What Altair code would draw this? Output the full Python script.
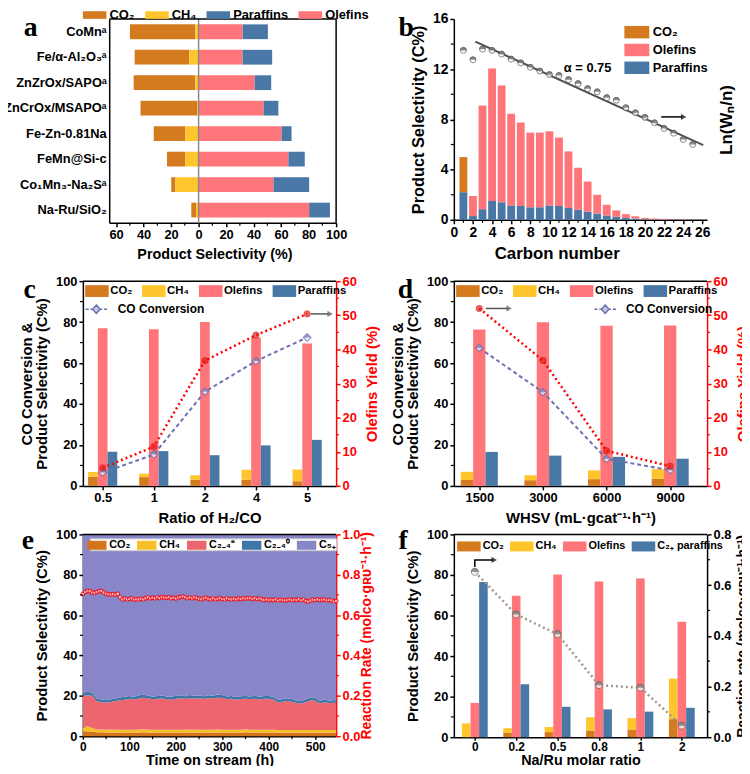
import altair as alt
import pandas as pd

FONT = "Liberation Sans"
SERIF = "Liberation Serif"

C_CO2 = "#D47B1F"
C_CH4 = "#FFC52C"
C_OLE = "#FF7579"
C_PAR = "#4A78A6"
RED = "#FF0000"
CONV = "#6E70B0"
RATE_F = "#A3968A"
W = 256

# ---------------- panel a data ----------------
a_catalysts = ["CoMnᵃ", "Fe/α-Al₂O₃ᵃ", "ZnZrOx/SAPOᵃ", "ZnCrOx/MSAPOᵃ",
               "Fe-Zn-0.81Na", "FeMn@Si-c", "Co₁Mn₃-Na₂Sᵃ", "Na-Ru/SiO₂"]
a_co2 = [47.5, 39.8, 44.8, 41.2, 23.0, 13.4, 3.1, 3.4]
a_ch4 = [2.4, 6.7, 2.4, 1.0, 9.6, 9.6, 16.8, 1.9]
a_olefins = [32.0, 32.0, 40.8, 47.3, 60.4, 65.3, 54.5, 80.4]
a_paraffins = [18.4, 21.5, 12.0, 10.7, 7.2, 11.9, 25.9, 15.1]
a_series = ["CO₂", "CH₄", "Paraffins", "Olefins"]
a_ticks = [-60, -40, -20, 0, 20, 40, 60, 80, 100]
a_minor = [-50, -30, -10, 10, 30, 50, 70, 90]

# ---------------- panel b data ----------------
b_carbon = [1, 2, 3, 4, 5, 6, 7, 8, 9, 10, 11, 12, 13, 14, 15, 16, 17, 18, 19, 20, 21, 22, 23, 24, 25]
b_paraffins = [2.2, 0.3, 0.85, 1.5, 1.4, 1.15, 1.1, 1.0, 1.0, 1.15, 1.1, 0.95, 0.8, 0.65, 0.5,
               0.35, 0.25, 0.15, 0.1, 0.05, 0.03, 0.02, 0.02, 0.01, 0.01]
b_olefins = [0.0, 1.6, 8.25, 10.55, 9.3, 7.3, 6.65, 5.95, 5.95, 5.9, 5.45, 4.5, 3.35, 2.4, 1.5,
             0.85, 0.5, 0.3, 0.18, 0.1, 0.07, 0.06, 0.03, 0.02, 0.01]
b_co2 = [2.8, 0, 0, 0, 0, 0, 0, 0, 0, 0, 0, 0, 0, 0, 0, 0, 0, 0, 0, 0, 0, 0, 0, 0, 0]
b_lnw = [13.5, 12.75, 13.6, 13.5, 13.2, 12.8, 12.5, 12.15, 11.85, 11.57, 11.5, 11.17, 10.85,
         10.45, 10.2, 9.73, 9.52, 8.93, 8.53, 8.16, 7.73, 7.28, 6.9, 6.4, 6.0]
b_fit_x = [2.25, 26.1]
b_fit_y = [14.2, 5.95]
b_series = ["CO₂", "Olefins", "Paraffins"]
b_ticks = [0, 2, 4, 6, 8, 10, 12, 14, 16, 18, 20, 22, 24, 26]
b_minor_x = [1, 3, 5, 7, 9, 11, 13, 15, 17, 19, 21, 23, 25]
b_yticks = [0, 4, 8, 12, 16]
b_minor_y = [2, 6, 10, 14]

# ---------------- panel c data ----------------
c_ratio = ["0.5", "1", "2", "4", "5"]
c_co2 = [4.5, 4.3, 3.0, 3.0, 2.3]
c_ch4 = [2.3, 1.7, 2.2, 4.9, 5.7]
c_olefins = [77.0, 76.5, 80.0, 72.5, 69.5]
c_paraffins = [16.7, 17.0, 15.0, 19.8, 22.5]
c_conv = [6.5, 15.3, 46.0, 61.0, 72.5]
c_yield = [5.3, 11.5, 36.7, 44.2, 50.4]

# ---------------- panel d data ----------------
d_whsv = ["1500", "3000", "6000", "9000"]
d_co2 = [2.9, 2.8, 3.3, 3.5]
d_ch4 = [4.0, 2.4, 4.3, 4.7]
d_olefins = [76.4, 79.9, 78.2, 78.4]
d_paraffins = [16.6, 14.8, 14.2, 13.3]
d_conv = [67.4, 45.8, 13.2, 7.7]
d_yield = [52.0, 36.8, 10.3, 5.8]

# ---------------- panel e data ----------------
e_time = [0, 10, 20, 30, 40, 50, 60, 70, 80, 90, 100, 110, 120, 130, 140, 150, 160, 170, 180, 190,
          200, 210, 220, 230, 240, 250, 260, 270, 280, 290, 300, 310, 320, 330, 340, 350, 360, 370,
          380, 390, 400, 410, 420, 430, 440, 450, 460, 470, 480, 490, 500, 510, 520, 530, 540, 545]
e_top = [21.5, 22.0, 21.6, 18.6, 18.2, 17.9, 18.3, 18.7, 19.2, 19.6,
         19.9, 19.5, 20.2, 20.7, 20.2, 19.6, 19.9, 20.2, 19.7, 19.5,
         20.0, 20.3, 19.8, 20.4, 20.1, 20.2, 19.8, 20.3, 20.1, 20.6,
         20.4, 19.7, 19.9, 19.4, 19.8, 19.9, 19.7, 20.1, 19.5, 19.9,
         19.9, 19.5, 17.9, 18.4, 18.8, 18.4, 17.6, 17.4, 18.3, 19.2,
         19.0, 17.4, 18.2, 17.6, 17.9, 17.7]
e_par = [1.6, 1.7, 1.6, 1.4, 1.3, 1.3, 1.4, 1.3, 1.4, 1.5,
         1.4, 1.3, 1.5, 1.6, 1.4, 1.3, 1.4, 1.5, 1.3, 1.4,
         1.4, 1.5, 1.3, 1.5, 1.4, 1.4, 1.3, 1.5, 1.4, 1.6,
         1.5, 1.3, 1.4, 1.3, 1.4, 1.4, 1.3, 1.5, 1.3, 1.4,
         1.4, 1.3, 1.2, 1.3, 1.4, 1.3, 1.2, 1.2, 1.3, 1.4,
         1.4, 1.2, 1.3, 1.2, 1.3, 1.3]
e_co2 = [2.3, 2.5, 2.2, 1.9, 1.9, 1.8, 1.8, 1.8, 1.8, 1.8,
         1.8, 1.8, 1.8, 1.9, 1.8, 1.8, 1.8, 1.8, 1.8, 1.8,
         1.8, 1.8, 1.8, 1.8, 1.8, 1.8, 1.8, 1.8, 1.8, 1.8,
         1.8, 1.8, 1.8, 1.8, 1.8, 1.9, 1.8, 1.8, 1.8, 1.8,
         1.8, 1.8, 1.7, 1.7, 1.7, 1.7, 1.7, 1.7, 1.7, 1.7,
         1.7, 1.7, 1.7, 1.7, 1.7, 1.7]
e_ch4 = [1.9, 2.4, 1.8, 1.4, 1.4, 1.4, 1.5, 1.4, 1.4, 1.4,
         1.4, 1.4, 1.5, 1.5, 1.4, 1.4, 1.4, 1.4, 1.4, 1.4,
         1.4, 1.4, 1.4, 1.5, 1.4, 1.4, 1.4, 1.4, 1.4, 1.5,
         1.4, 1.4, 1.4, 1.4, 1.4, 1.5, 1.4, 1.4, 1.4, 1.4,
         1.4, 1.4, 1.4, 1.4, 1.4, 1.4, 1.4, 1.4, 1.4, 1.4,
         1.4, 1.4, 1.4, 1.4, 1.4, 1.4]
e_rate_t = list(range(0, 550, 5))
e_rate = [0.705, 0.715, 0.72, 0.718, 0.712, 0.71, 0.715, 0.718, 0.72, 0.712,
          0.706, 0.703, 0.702, 0.704, 0.702, 0.706, 0.688, 0.678, 0.682, 0.678,
          0.68, 0.684, 0.677, 0.679, 0.678, 0.681, 0.679, 0.684, 0.688, 0.683,
          0.686, 0.684, 0.688, 0.685, 0.69, 0.687, 0.686, 0.689, 0.684, 0.686,
          0.682, 0.687, 0.69, 0.692, 0.688, 0.684, 0.687, 0.683, 0.688, 0.685,
          0.681, 0.679, 0.683, 0.686, 0.681, 0.679, 0.683, 0.679, 0.681, 0.684,
          0.68, 0.678, 0.683, 0.68, 0.678, 0.681, 0.679, 0.682, 0.68, 0.683,
          0.682, 0.684, 0.683, 0.681, 0.683, 0.68, 0.682, 0.678, 0.675, 0.677,
          0.675, 0.676, 0.675, 0.677, 0.673, 0.676, 0.674, 0.672, 0.675, 0.677,
          0.674, 0.676, 0.675, 0.678, 0.674, 0.677, 0.67, 0.667, 0.672, 0.676,
          0.675, 0.678, 0.675, 0.676, 0.677, 0.674, 0.675, 0.672, 0.668, 0.67]
e_series = ["CO₂", "CH₄", "C₂₋₄⁼", "C₂₋₄⁰", "C₅₊"]
e_colors = ["#D2741C", "#F9BF28", "#EC656F", "#3F76A8", "#8886C8"]

# ---------------- panel f data ----------------
f_ratio = ["0", "0.2", "0.5", "0.8", "1", "2"]
f_co2 = [0.0, 2.3, 2.5, 3.3, 3.8, 8.9]
f_ch4 = [6.8, 2.1, 2.5, 6.5, 5.6, 20.0]
f_olefins = [16.9, 69.7, 80.2, 76.8, 78.2, 56.9]
f_paraffins = [76.5, 26.1, 15.0, 13.7, 12.6, 14.5]
f_rate = [0.652, 0.484, 0.406, 0.205, 0.195, 0.045]

# ---------------- helpers ----------------
SYM_A = "M-1.7,-0.55H1.7V0.55H-1.7Z"
SYM_B = "M-1.8,-0.9H1.8V0.9H-1.8Z"
SYM_C = "M-1.7,-0.85H1.7V0.85H-1.7Z"
SYM_E = "M-1.4,-0.65H1.4V0.65H-1.4Z"
SYM_F = "M-1.7,-0.72H1.7V0.72H-1.7Z"
SYM_CONV = "M-1.55,0H-1.1M-0.85,0H-0.6M0.6,0H0.85M1.1,0H1.55M0,-0.6L0.55,0L0,0.6L-0.55,0Z"
TOP_HALF_CIRCLE = "M-1,0A1,1,0,0,1,1,0Z"
TOP_HALF_DIAMOND = "M-1,0L0,-1L1,0Z"


def one():
    return alt.Chart(pd.DataFrame({"k": [0]}))


def leg(x, y, sym, fs=13, cols=4, direction="horizontal", lo=8.0, cp=10.0, rp=4.0, **kw):
    return alt.Legend(title=None, orient="none", legendX=x, legendY=y, direction=direction,
                      columns=cols, symbolType=sym, symbolSize=196, symbolStrokeWidth=0,
                      labelFont=FONT, labelFontWeight="bold", labelFontSize=fs, labelColor="black",
                      labelOffset=lo, columnPadding=cp, rowPadding=rp, padding=0, labelLimit=300, **kw)


def letter(t, x, y):
    return one().mark_text(font=SERIF, fontSize=28, fontWeight="bold", align="left",
                           baseline="alphabetic", color="black").encode(
        x=alt.value(x), y=alt.value(y), text=alt.value(t))


def top_rule(x0, x1):
    return one().mark_rule(color="black", strokeWidth=1.5).encode(
        x=alt.value(x0), x2=alt.value(x1), y=alt.value(0))


def right_rule(x, h):
    return one().mark_rule(color="black", strokeWidth=1.5).encode(
        x=alt.value(x), y=alt.value(0), y2=alt.value(h))


def xminor(vals, scale, xax, h, color="black"):
    return alt.Chart(pd.DataFrame({"v": vals})).mark_rule(color=color, strokeWidth=1.2).encode(
        x=alt.X("v:Q", scale=scale, axis=xax), y=alt.value(h), y2=alt.value(h + 3))


def yminor(vals, domain, xpix, length, color="black"):
    return alt.Chart(pd.DataFrame({"v": vals})).mark_rule(color=color, strokeWidth=1.2).encode(
        y=alt.Y("v:Q", scale=alt.Scale(domain=domain, nice=False, zero=False), axis=None),
        x=alt.value(xpix), x2=alt.value(xpix + length))


def ys(domain):
    return alt.Scale(domain=domain, nice=False, zero=False)


def grouped_rows(co2, ch4, ole, par, h, names):
    rows = []
    for i in range(len(co2)):
        rows.append({"s": names[0], "x1": i - 3 * h, "x2": i - h, "y1": 0, "y2": co2[i]})
        rows.append({"s": names[1], "x1": i - 3 * h, "x2": i - h, "y1": co2[i], "y2": co2[i] + ch4[i]})
        rows.append({"s": names[2], "x1": i - h, "x2": i + h, "y1": 0, "y2": ole[i]})
        rows.append({"s": names[3], "x1": i + h, "x2": i + 3 * h, "y1": 0, "y2": par[i]})
    return pd.DataFrame(rows)


def cat_expr(cats):
    return "[" + ",".join("'" + c + "'" for c in cats) + "][datum.value]"


# ======================= panel a =======================
H_A = 206
A_OFF = 26.6
a_xs = alt.Scale(domain=[-65, 100], range=[A_OFF, W], nice=False, zero=False)
a_xax = alt.Axis(values=a_ticks, labelExpr="abs(datum.value)", title="Product Selectivity (%)",
                 titleX=133, titleFontSize=14.5, labelFontSize=13)
a_rows = []
for i, c in enumerate(a_catalysts):
    a_rows += [
        {"cat": c, "s": "CO₂", "lo": -(a_ch4[i] + a_co2[i]), "hi": -a_ch4[i]},
        {"cat": c, "s": "CH₄", "lo": -a_ch4[i], "hi": 0},
        {"cat": c, "s": "Olefins", "lo": 0, "hi": a_olefins[i]},
        {"cat": c, "s": "Paraffins", "lo": a_olefins[i], "hi": a_olefins[i] + a_paraffins[i]},
    ]
a_bars = alt.Chart(pd.DataFrame(a_rows)).mark_bar().encode(
    x=alt.X("lo:Q", scale=a_xs, axis=a_xax),
    x2="hi:Q",
    y=alt.Y("cat:N", sort=a_catalysts, scale=alt.Scale(paddingInner=0.42, paddingOuter=0.21),
            axis=alt.Axis(title=None, ticks=False, offset=-A_OFF, labelPadding=3, labelFontSize=13)),
    color=alt.Color("s:N", scale=alt.Scale(domain=a_series, range=[C_CO2, C_CH4, C_PAR, C_OLE]),
                    legend=leg(4.9, -11, SYM_A, fs=13, cols=4, lo=8, cp=10)),
)
a_zero = alt.Chart(pd.DataFrame({"v": [0]})).mark_rule(color="#8A8A8A", strokeWidth=1.5).encode(
    x=alt.X("v:Q", scale=a_xs, axis=a_xax))
panel_a = alt.layer(
    a_bars, a_zero, xminor(a_minor, a_xs, a_xax, H_A), top_rule(A_OFF, W), right_rule(W, H_A),
    letter("a", -59.7, 16.7),
).properties(width=W, height=H_A)

# ======================= panel b =======================
H_B = 203
b_xs = alt.Scale(domain=[0, 26.5], nice=False, zero=False)
b_xax = alt.Axis(values=b_ticks, title="Carbon number", titleX=104, titleFontSize=17, labelFontSize=14)
b_rows = []
for i, n in enumerate(b_carbon):
    b_rows.append({"s": "Paraffins", "x1": n - 0.41, "x2": n + 0.41, "y1": 0, "y2": b_paraffins[i]})
    if b_olefins[i] > 0:
        b_rows.append({"s": "Olefins", "x1": n - 0.41, "x2": n + 0.41, "y1": b_paraffins[i],
                       "y2": b_paraffins[i] + b_olefins[i]})
    if b_co2[i] > 0:
        b_rows.append({"s": "CO₂", "x1": n - 0.41, "x2": n + 0.41, "y1": b_paraffins[i],
                       "y2": b_paraffins[i] + b_co2[i]})
b_bars = alt.Chart(pd.DataFrame(b_rows)).mark_bar().encode(
    x=alt.X("x1:Q", scale=b_xs, axis=b_xax),
    x2="x2:Q",
    y=alt.Y("y1:Q", scale=ys([0, 16]), axis=alt.Axis(values=b_yticks, title="Product Selectivity (C%)",
                                                     titleFontSize=16.5, labelFontSize=14)),
    y2="y2:Q",
    color=alt.Color("s:N", scale=alt.Scale(domain=b_series, range=[C_CO2, C_OLE, C_PAR]),
                    legend=leg(178, 6.3, SYM_B, fs=13, cols=1, direction="vertical", lo=9, rp=4)),
)
b_fit = alt.Chart(pd.DataFrame({"x": b_fit_x, "y": b_fit_y})).mark_line(color="#505050", strokeWidth=2).encode(
    x=alt.X("x:Q", scale=b_xs, axis=b_xax),
    y=alt.Y("y:Q", scale=ys([0, 16]),
            axis=alt.Axis(orient="right", title="Ln(Wₙ/n)", labels=False, ticks=False, domain=False,
                          titleAngle=270, titleBaseline="top", titlePadding=12, titleFontSize=17)),
)
b_pts_df = pd.DataFrame({"n": b_carbon, "v": b_lnw})
b_pts = alt.Chart(b_pts_df).mark_point(shape="circle", filled=True, fill="white", stroke="#555555",
                                       strokeWidth=1, size=36).encode(
    x=alt.X("n:Q", scale=b_xs, axis=b_xax), y=alt.Y("v:Q", scale=ys([0, 16]), axis=None))
b_half = alt.Chart(b_pts_df).mark_point(shape=TOP_HALF_CIRCLE, filled=True, fill="#555555",
                                        strokeWidth=0, size=46).encode(
    x=alt.X("n:Q", scale=b_xs, axis=b_xax), y=alt.Y("v:Q", scale=ys([0, 16]), axis=None))
b_note = alt.Chart(pd.DataFrame({"x": [14.0], "y": [12.1], "t": ["α = 0.75"]})).mark_text(
    font=FONT, fontWeight="bold", fontSize=13, color="black").encode(
    x=alt.X("x:Q", scale=b_xs, axis=b_xax), y=alt.Y("y:Q", scale=ys([0, 16]), axis=None), text="t:N")
b_arrow = alt.Chart(pd.DataFrame({"x": [21.7], "x2": [23.9], "y": [8.2]})).mark_rule(
    color="black", strokeWidth=1.5).encode(
    x=alt.X("x:Q", scale=b_xs, axis=b_xax), x2="x2:Q", y=alt.Y("y:Q", scale=ys([0, 16]), axis=None))
b_head = alt.Chart(pd.DataFrame({"x": [24.05], "y": [8.2]})).mark_point(
    shape="triangle-right", filled=True, color="black", size=40).encode(
    x=alt.X("x:Q", scale=b_xs, axis=b_xax), y=alt.Y("y:Q", scale=ys([0, 16]), axis=None))
panel_b = alt.layer(
    b_bars, xminor(b_minor_x, b_xs, b_xax, H_B), yminor(b_minor_y, [0, 16], 0, -3),
    b_fit, b_pts, b_half, b_note, b_arrow, b_head, letter("b", -56, 16.7),
).resolve_scale(y="independent").properties(width=W, height=H_B)


# ======================= panels c, d, f (grouped bars) =======================
def cat_axis(cats, title, **kw):
    return alt.Axis(values=list(range(len(cats))), labelExpr=cat_expr(cats), title=title, **kw)


def grouped_bars(co2, ch4, ole, par, h, xs, xax, names, colors, legend, ytitle):
    df = grouped_rows(co2, ch4, ole, par, h, names)
    return alt.Chart(df).mark_bar().encode(
        x=alt.X("x1:Q", scale=xs, axis=xax),
        x2="x2:Q",
        y=alt.Y("y1:Q", scale=ys([0, 100]),
                axis=alt.Axis(values=[0, 20, 40, 60, 80, 100], title=ytitle, titleLineHeight=15)),
        y2="y2:Q",
        color=alt.Color("s:N", scale=alt.Scale(domain=names, range=colors), legend=legend),
    )


def conv_layers(vals, xs, xax):
    df = pd.DataFrame({"i": list(range(len(vals))), "v": vals})
    line = alt.Chart(df).mark_line(color=CONV, strokeDash=[4, 3], strokeWidth=2).encode(
        x=alt.X("i:Q", scale=xs, axis=xax), y=alt.Y("v:Q", scale=ys([0, 100]), axis=None))
    pts = alt.Chart(df).mark_point(shape="diamond", filled=True, fill="white", stroke=CONV,
                                   strokeWidth=1.2, size=60).encode(
        x=alt.X("i:Q", scale=xs, axis=xax), y=alt.Y("v:Q", scale=ys([0, 100]), axis=None))
    half = alt.Chart(df).mark_point(shape=TOP_HALF_DIAMOND, filled=True, fill=CONV, strokeWidth=0,
                                    size=60).encode(
        x=alt.X("i:Q", scale=xs, axis=xax), y=alt.Y("v:Q", scale=ys([0, 100]), axis=None))
    return [line, pts, half]


def conv_legend_layer(xs, xax, lx, ly, lo):
    return alt.Chart(pd.DataFrame({"lab": ["CO Conversion"]})).mark_point(
        filled=True, fill="#C3C5E4", stroke=CONV, strokeWidth=1.5, size=1).encode(
        x=alt.XDatum(0, scale=xs, axis=xax), y=alt.YDatum(40, scale=ys([0, 100]), axis=None),
        shape=alt.Shape("lab:N", scale=alt.Scale(domain=["CO Conversion"], range=[SYM_CONV]),
                        legend=alt.Legend(title=None, orient="none", legendX=lx, legendY=ly,
                                          symbolSize=196, symbolOpacity=1, labelFont=FONT,
                                          labelFontWeight="bold", labelFontSize=12, labelColor="black",
                                          labelOffset=lo, padding=0)))


def yield_layers(vals, xs, xax):
    df = pd.DataFrame({"i": list(range(len(vals))), "v": vals})
    line = alt.Chart(df).mark_line(color=RED, strokeDash=[2, 3], strokeWidth=2.5).encode(
        x=alt.X("i:Q", scale=xs, axis=xax),
        y=alt.Y("v:Q", scale=ys([0, 60]),
                axis=alt.Axis(orient="right", values=[0, 10, 20, 30, 40, 50, 60], title="Olefins Yield (%)",
                              titleColor=RED, labelColor=RED, domainColor=RED, tickColor=RED,
                              titleAngle=270, titleBaseline="top", titlePadding=8.5)))
    pts = alt.Chart(df).mark_point(shape="circle", filled=True, fill="#F21B1B", stroke="#B00000",
                                   strokeWidth=0.6, size=42).encode(
        x=alt.X("i:Q", scale=xs, axis=xax), y=alt.Y("v:Q", scale=ys([0, 60]), axis=None))
    return [line, pts]


def arrow(xs, xax, dom, x0, x1, xh, y, color="#555555"):
    r = alt.Chart(pd.DataFrame({"x": [x0], "x2": [x1], "y": [y]})).mark_rule(
        color=color, strokeWidth=1.5).encode(
        x=alt.X("x:Q", scale=xs, axis=xax), x2="x2:Q", y=alt.Y("y:Q", scale=ys(dom), axis=None))
    hd = alt.Chart(pd.DataFrame({"x": [xh], "y": [y]})).mark_point(
        shape="triangle-right", filled=True, color=color, size=40).encode(
        x=alt.X("x:Q", scale=xs, axis=xax), y=alt.Y("y:Q", scale=ys(dom), axis=None))
    return [r, hd]


H_C = 207
names4 = ["CO₂", "CH₄", "Olefins", "Paraffins"]
colors4 = [C_CO2, C_CH4, C_OLE, C_PAR]
YT_CD = ["CO Conversion &", "Product Selectivity (C%)"]

# ---- c
c_xs = alt.Scale(domain=[-0.387, 4.567], nice=False, zero=False)
c_xax = cat_axis(c_ratio, "Ratio of H₂/CO")
c_bars = grouped_bars(c_co2, c_ch4, c_olefins, c_paraffins, 0.095, c_xs, c_xax, names4, colors4,
                      leg(7.2, 3, SYM_C, fs=11.5, cols=4, lo=6.4, cp=9.5), YT_CD)
panel_c = alt.layer(
    conv_legend_layer(c_xs, c_xax, 5.6, 20.4, 13.7), c_bars, yminor([10, 30, 50, 70, 90], [0, 100], 0, -3),
    *conv_layers(c_conv, c_xs, c_xax), *yield_layers(c_yield, c_xs, c_xax),
    yminor([5, 15, 25, 35, 45, 55], [0, 60], W, 3, RED),
    *arrow(c_xs, c_xax, [0, 60], 4.07, 4.42, 4.45, 50.4),
    top_rule(0, W), letter("c", -60, 17.4),
).resolve_scale(y="independent").properties(width=W, height=H_C)

# ---- d
d_xs = alt.Scale(domain=[-0.4, 3.58], nice=False, zero=False)
d_xax = cat_axis(d_whsv, "WHSV (mL·gcat⁻¹·h⁻¹)")
d_bars = grouped_bars(d_co2, d_ch4, d_olefins, d_paraffins, 0.097, d_xs, d_xax, names4, colors4,
                      leg(7.2, 3, SYM_C, fs=11.5, cols=4, lo=6.4, cp=9.5), YT_CD)
panel_d = alt.layer(
    conv_legend_layer(d_xs, d_xax, 145, 20.4, 13), d_bars, yminor([10, 30, 50, 70, 90], [0, 100], 0, -3),
    *conv_layers(d_conv, d_xs, d_xax), *yield_layers(d_yield, d_xs, d_xax),
    yminor([5, 15, 25, 35, 45, 55], [0, 60], W, 3, RED),
    *arrow(d_xs, d_xax, [0, 60], 0.1, 0.45, 0.47, 52.0),
    top_rule(0, W), letter("d", -56.7, 17.4),
).resolve_scale(y="independent").properties(width=W, height=H_C)

# ---- f (bottom row: compact x axis)
H_F = 205
f_names = ["CO₂", "CH₄", "Olefins", "C₂₊ paraffins"]
f_xs = alt.Scale(domain=[-0.506, 5.61], nice=False, zero=False)
f_xax = cat_axis(f_ratio, "Na/Ru molar ratio", labelFontSize=12, labelPadding=1, tickSize=3,
                 titleFontSize=14.5, titleBaseline="alphabetic", titleY=28)
f_bars = grouped_bars(f_co2, f_ch4, f_olefins, f_paraffins, 0.104, f_xs, f_xax, f_names, colors4,
                      leg(8.2, 4.7, SYM_F, fs=11, cols=4, lo=6.9, cp=5.5), "Product Selectivity (C%)")
f_df = pd.DataFrame({"i": list(range(len(f_rate))), "v": f_rate})
f_line = alt.Chart(f_df).mark_line(color=RATE_F, strokeDash=[2, 3], strokeWidth=2.5).encode(
    x=alt.X("i:Q", scale=f_xs, axis=f_xax),
    y=alt.Y("v:Q", scale=ys([0, 0.8]),
            axis=alt.Axis(orient="right", values=[0, 0.2, 0.4, 0.6, 0.8], format=".1f",
                          title="Reaction rate (molᴄᴏ·gʀᴜ⁻¹·h⁻¹)", titleFontSize=14,
                          titleAngle=270, titleBaseline="top", titlePadding=5)))
f_pts = alt.Chart(f_df).mark_point(shape="circle", filled=True, fill="white", stroke="#6A6A6A",
                                   strokeWidth=1, size=50).encode(
    x=alt.X("i:Q", scale=f_xs, axis=f_xax), y=alt.Y("v:Q", scale=ys([0, 0.8]), axis=None))
f_half = alt.Chart(f_df).mark_point(shape=TOP_HALF_CIRCLE, filled=True, fill="#6A6A6A", strokeWidth=0,
                                    size=64).encode(
    x=alt.X("i:Q", scale=f_xs, axis=f_xax), y=alt.Y("v:Q", scale=ys([0, 0.8]), axis=None))
f_arrow_x = [0, 0, 0.44]
f_arrow_y = [0.671, 0.699, 0.699]
f_arr = alt.Chart(pd.DataFrame({"x": f_arrow_x, "y": f_arrow_y, "o": [0, 1, 2]})).mark_line(
    color="black", strokeWidth=1.5).encode(
    x=alt.X("x:Q", scale=f_xs, axis=f_xax), y=alt.Y("y:Q", scale=ys([0, 0.8]), axis=None), order="o:Q")
f_head = alt.Chart(pd.DataFrame({"x": [0.47], "y": [0.699]})).mark_point(
    shape="triangle-right", filled=True, color="black", size=40).encode(
    x=alt.X("x:Q", scale=f_xs, axis=f_xax), y=alt.Y("y:Q", scale=ys([0, 0.8]), axis=None))
panel_f = alt.layer(
    f_bars, yminor([10, 30, 50, 70, 90], [0, 100], 0, -3),
    f_line, f_pts, f_half, f_arr, f_head,
    yminor([0.1, 0.3, 0.5, 0.7], [0, 0.8], W, 3),
    top_rule(0, W), letter("f", -56, 15),
).resolve_scale(y="independent").properties(width=W, height=H_F)

# ======================= panel e =======================
H_E = 204
e_xs = alt.Scale(domain=[0, 545], nice=False, zero=False)
e_xax = alt.Axis(values=[0, 100, 200, 300, 400, 500], title="Time on stream (h)", labelFontSize=12,
                 labelPadding=2, tickSize=3, titleFontSize=14.5, titleBaseline="alphabetic", titleY=29)
e_rows = []
for i, t in enumerate(e_time):
    ole = e_top[i] - e_par[i] - e_co2[i] - e_ch4[i]
    b0 = 0.0
    for s, v in zip(e_series, [e_co2[i], e_ch4[i], ole, e_par[i], 100 - e_top[i]]):
        e_rows.append({"t": t, "s": s, "y1": b0, "y2": b0 + v})
        b0 += v
e_area = alt.Chart(pd.DataFrame(e_rows)).mark_area().encode(
    x=alt.X("t:Q", scale=e_xs, axis=e_xax),
    y=alt.Y("y1:Q", scale=ys([0, 100]),
            axis=alt.Axis(values=[0, 20, 40, 60, 80, 100], title="Product Selectivity (C%)")),
    y2="y2:Q",
    color=alt.Color("s:N", scale=alt.Scale(domain=e_series, range=e_colors),
                    legend=leg(7.1, 4, SYM_E, fs=11, cols=5, lo=5.5, cp=6.5,
                               fillColor="white", strokeColor="#C8C8C8")),
)
e_rate_pts = alt.Chart(pd.DataFrame({"t": e_rate_t, "v": e_rate})).mark_point(
    shape="circle", filled=True, fill="white", stroke=RED, strokeWidth=1.2, size=14).encode(
    x=alt.X("t:Q", scale=e_xs, axis=e_xax),
    y=alt.Y("v:Q", scale=ys([0, 1.0]),
            axis=alt.Axis(orient="right", values=[0, 0.2, 0.4, 0.6, 0.8, 1.0], format=".1f",
                          title="Reaction Rate (molᴄᴏ·gʀᴜ⁻¹·h⁻¹)", titleFontSize=14,
                          titleColor=RED, labelColor=RED, domainColor=RED, tickColor=RED,
                          titleAngle=270, titleBaseline="top", titlePadding=0)))
panel_e = alt.layer(
    e_area, e_rate_pts,
    xminor([50, 150, 250, 350, 450], e_xs, e_xax, H_E),
    yminor([10, 30, 50, 70, 90], [0, 100], 0, -3),
    yminor([0.1, 0.3, 0.5, 0.7, 0.9], [0, 1.0], W, 3, RED),
    top_rule(0, W), letter("e", -61.7, 15),
).resolve_scale(y="independent").properties(width=W, height=H_E)


def spacer(h):
    return one().mark_point(opacity=0).encode(x=alt.value(0), y=alt.value(0)).properties(width=1, height=h)


# plot-area grid origin (column 1 plot left, row 1 plot top) sits at page (~76.7, 15)
PAD_L = 75.7
PAD_T = 7
SVG_W = 742
SVG_H = 758

chart = alt.concat(
    panel_a, panel_b, spacer(58.3), spacer(58.3), panel_c, panel_d, spacer(48.7), spacer(48.7),
    panel_e, panel_f,
    columns=2, spacing={"row": 0, "column": 119}, bounds="flush",
).resolve_scale(
    color="independent", shape="independent"
).resolve_legend(
    color="independent", shape="independent"
).properties(
    autosize=alt.AutoSizeParams(type="none"),
    padding={"left": PAD_L, "top": PAD_T, "right": SVG_W - PAD_L, "bottom": SVG_H - PAD_T},
).configure_view(stroke=None).configure_axis(
    labelFont=FONT, titleFont=FONT, labelFontWeight="bold", titleFontWeight="bold",
    labelColor="black", titleColor="black", domainColor="black", tickColor="black",
    domainWidth=1.5, tickWidth=1.5, tickSize=4, labelFontSize=13, titleFontSize=15,
    grid=False, labelFlush=False, labelOverlap=False, titlePadding=6, labelPadding=2,
)

chart.save("out.html", embed_options={"renderer": "svg", "actions": False})
